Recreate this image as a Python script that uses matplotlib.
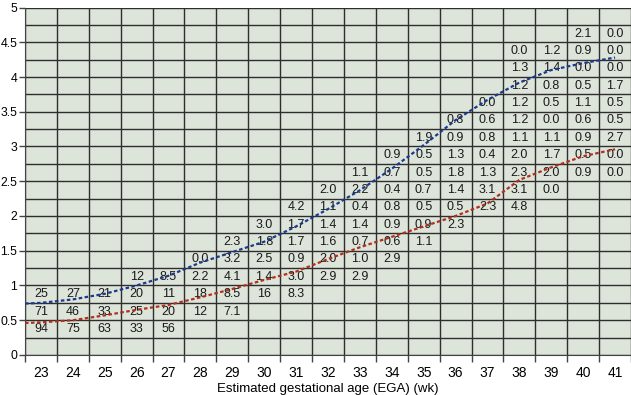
import matplotlib
matplotlib.use('Agg')
import matplotlib.pyplot as plt
import numpy as np

plt.rcParams['font.family'] = ['Liberation Sans', 'DejaVu Sans']

# 0.25-wide bins on the y axis; first_bin is the index of the lowest filled bin per week
weeks = list(range(23, 42))
first_bin = [1, 1, 1, 1, 1, 2, 2, 3, 3, 4, 4, 5, 6, 7, 8, 8, 9, 10, 10]
cell_text = [
    ["94", "71", "25"],
    ["75", "46", "27"],
    ["63", "33", "21"],
    ["33", "25", "20", "12"],
    ["56", "20", "11", "8.5"],
    ["12", "18", "2.2", "0.0"],
    ["7.1", "8.5", "4.1", "3.2", "2.3"],
    ["16", "1.4", "2.5", "1.8", "3.0"],
    ["8.3", "3.0", "0.9", "1.7", "1.7", "4.2"],
    ["2.9", "2.0", "1.6", "1.4", "1.1", "2.0"],
    ["2.9", "1.0", "0.7", "1.4", "0.4", "2.2", "1.1"],
    ["2.9", "0.6", "0.9", "0.8", "0.4", "0.7", "0.9"],
    ["1.1", "0.9", "0.5", "0.7", "0.5", "0.5", "1.9"],
    ["2.3", "0.5", "1.4", "1.8", "1.3", "0.9", "0.8"],
    ["2.3", "3.1", "1.3", "0.4", "0.8", "0.6", "0.0"],
    ["4.8", "3.1", "2.3", "2.0", "1.1", "1.2", "1.2", "1.2", "1.3", "0.0"],
    ["0.0", "2.0", "1.7", "1.1", "0.0", "0.5", "0.8", "1.4", "1.2"],
    ["0.9", "0.5", "0.9", "0.6", "1.1", "0.5", "0.0", "0.9", "2.1"],
    ["0.0", "0.0", "2.7", "0.5", "0.5", "1.7", "0.0", "0.0", "0.0"],
]

# curves
curve_x = [22.5, 23, 24, 25, 26, 27, 28, 29, 30, 31, 32, 33, 34, 35, 36, 37, 38, 39, 40, 41]
upper_y = [0.74, 0.75, 0.80, 0.88, 1.0, 1.14, 1.33, 1.48, 1.63, 1.85, 2.1, 2.37, 2.68,
           3.02, 3.38, 3.67, 3.92, 4.1, 4.2, 4.28]
lower_y = [0.46, 0.47, 0.50, 0.57, 0.65, 0.72, 0.83, 0.95, 1.08, 1.2, 1.38, 1.55, 1.70,
           1.85, 2.0, 2.18, 2.52, 2.7, 2.86, 2.96]

bin_h = 0.25
bg = '#dde4da'
grid_c = '#2e2e2e'

fig = plt.figure(figsize=(6.31, 3.95), dpi=100)
ax = fig.add_axes([0.0396, 0.1013, 0.9604, 0.8797])
ax.set_facecolor(bg)
ax.set_xlim(22.5, 41.5)
ax.set_ylim(0, 5)

# grid
for gx in np.arange(22.5, 41.6, 1):
    ax.axvline(gx, color=grid_c, lw=1.0, zorder=1)
for gy in np.arange(0, 5.01, bin_h):
    ax.axhline(gy, color=grid_c, lw=1.0, zorder=1)

# cell values
for wk, fb, texts in zip(weeks, first_bin, cell_text):
    for i, t in enumerate(texts):
        yc = (fb + i + 0.5) * bin_h
        ax.text(wk, yc, t, ha='center', va='center', fontsize=9, color='#1a1a1a', zorder=2)

ax.plot(curve_x, upper_y, color='#1c3a8c', lw=1.6, ls=(0, (1.6, 1.1)), zorder=3)
ax.plot(curve_x, lower_y, color='#b0301e', lw=1.6, ls=(0, (1.6, 1.1)), zorder=3)

ax.set_yticks(np.arange(0, 5.01, 0.5))
ax.set_yticklabels(['0', '0.5', '1', '1.5', '2', '2.5', '3', '3.5', '4', '4.5', '5'])
ax.set_xticks(np.arange(22.5, 41.6, 1))
ax.set_xticklabels([])
ax.set_xticks(weeks, minor=True)
ax.set_xticklabels([str(w) for w in weeks], minor=True)
ax.tick_params(axis='x', which='major', length=5, width=1, color='#444444')
ax.tick_params(axis='x', which='minor', length=0, labelsize=10, pad=8)
ax.tick_params(axis='y', length=4.5, width=1, color='#444444', labelsize=8.8, pad=1)
for s in ['top', 'right']:
    ax.spines[s].set_visible(False)
ax.spines['left'].set_color('#444444')
ax.spines['bottom'].set_color('#444444')

ax.set_xlabel('Estimated gestational age (EGA) (wk)', fontsize=9.5, labelpad=2)

fig.savefig('out.png', dpi=100)
